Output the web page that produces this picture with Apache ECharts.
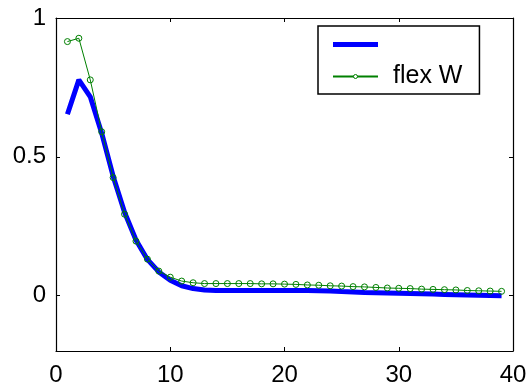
<!DOCTYPE html>
<html>
<head>
<meta charset="utf-8">
<script src="https://cdn.jsdelivr.net/npm/echarts@6/dist/echarts.min.js"></script>
<style>html,body{margin:0;padding:0;background:#fff;}#c{width:531px;height:387px;}</style>
</head>
<body>
<div id="c"></div>
<script>
var xs = [1,2,3,4,5,6,7,8,9,10,11,12,13,14,15,16,17,18,19,20,21,22,23,24,25,26,27,28,29,30,31,32,33,34,35,36,37,38,39];
var blueVals = [0.653,0.777,0.716,0.585,0.43,0.30,0.20,0.13,0.085,0.055,0.035,0.025,0.020,0.018,0.018,0.018,0.018,0.018,0.018,0.018,0.018,0.018,0.017,0.016,0.014,0.013,0.011,0.010,0.009,0.008,0.007,0.006,0.005,0.004,0.003,0.002,0.001,0.000,-0.001];
var greenVals = [0.915,0.927,0.777,0.59,0.425,0.293,0.196,0.131,0.088,0.066,0.052,0.046,0.043,0.043,0.043,0.043,0.043,0.042,0.042,0.041,0.040,0.038,0.037,0.035,0.034,0.032,0.031,0.029,0.027,0.026,0.025,0.023,0.022,0.021,0.020,0.018,0.017,0.016,0.015];
var xTicks = [0,10,20,30,40];
var yTicks = [0,0.5,1];
var blueName = ' ';
var greenName = 'flex W';

function pairs(v){ return xs.map(function(x,i){ return [x, v[i]]; }); }

var chart = echarts.init(document.getElementById('c'), null, {renderer:'canvas'});
var font = 'Liberation Sans, Arial, sans-serif';
var lineStyle = {color:'#000', width:1.2};
function xAx(pos, show){
  return {type:'value', position:pos, min:0, max:40, interval:10,
    axisLine:{show:true, onZero:false, lineStyle:lineStyle},
    axisTick:{show:true, inside:true, length:4, lineStyle:{color:'#000'}},
    axisLabel:{show:show, color:'#000', fontSize:24, fontFamily:font, margin:12},
    splitLine:{show:false}};
}
function yAx(pos, show){
  return {type:'value', position:pos, min:-0.2, max:1,
    axisLine:{show:true, onZero:false, lineStyle:lineStyle},
    axisTick:{show:true, inside:true, length:4, lineStyle:{color:'#000'}, customValues:yTicks},
    axisLabel:{show:show, color:'#000', fontSize:24, fontFamily:font, margin:10, customValues:yTicks,
      formatter:function(v){ return String(v); }},
    splitLine:{show:false}};
}
chart.setOption({
  animation:false,
  backgroundColor:'#fff',
  grid:{left:56, right:18, top:18, bottom:35.5, containLabel:false},
  xAxis:[xAx('bottom', true), xAx('top', false)],
  yAxis:[yAx('left', true), yAx('right', false)],
  legend:{
    orient:'vertical', left:318, top:26,
    padding:[6,17,5,14], itemGap:7, itemWidth:45, itemHeight:5,
    backgroundColor:'#fff', borderColor:'#000', borderWidth:1.5,
    textStyle:{color:'#000', fontSize:25, fontFamily:font, padding:[0,0,0,10], lineHeight:24},
    data:[{name:blueName, icon:'rect'},
          {name:greenName, itemStyle:{color:'#ffffff', borderColor:'#008000', borderWidth:1}}]
  },
  series:[
    {name:blueName, type:'line', data:pairs(blueVals), showSymbol:false, symbol:'none',
      lineStyle:{color:'#0000ff', width:5}, itemStyle:{color:'#0000ff'}, z:2},
    {name:greenName, type:'line', data:pairs(greenVals), symbol:'circle', symbolSize:6,
      lineStyle:{color:'#008000', width:1}, itemStyle:{color:'rgba(0,0,0,0)', borderColor:'#008000', borderWidth:1}, z:3}
  ]
});
</script>
</body>
</html>
